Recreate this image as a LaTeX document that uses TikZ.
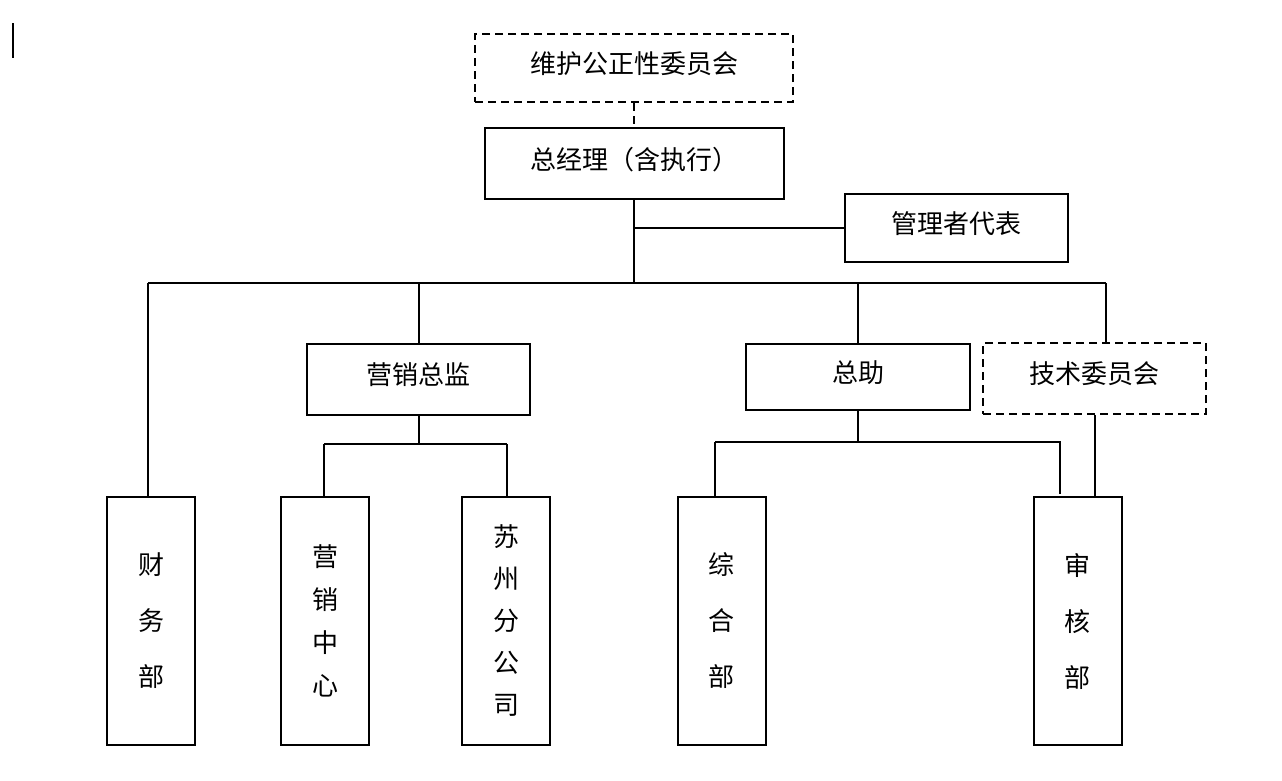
\documentclass[tikz,border=0pt]{standalone}
\usepackage{fontspec}
\setmainfont{Noto Sans CJK SC}
\usepackage{tikz}
\usetikzlibrary{positioning,calc}

\tikzset{
	box/.style={draw,line width=2pt,inner sep=0pt,align=center},
	unit/.style={box,text depth=11pt,font=\fontsize{26}{30}\selectfont},
	dashunit/.style={unit,dash pattern=on 8pt off 5pt},
	colunit/.style={box,minimum width=88pt,minimum height=248pt},
	link/.style={line width=2pt}
}

\begin{document}
\begin{tikzpicture}[x=1pt,y=-1pt]
	\useasboundingbox (0,0) rectangle (1282,780);
	% cursor mark
	\draw[line width=2pt] (13,23) -- (13,58);
	
	% top
	\node[dashunit,minimum width=318pt,minimum height=68pt] (cttee) at (634,68) {维护公正性委员会};
	\node[unit,minimum width=299pt,minimum height=71pt] (gm) at (634,163.5) {总经理（含执行）};
	\node[unit,minimum width=223pt,minimum height=68pt] (rep) at (956.5,228) {管理者代表};
	
	\draw[link,dash pattern=on 8pt off 5pt] (cttee.south) -- (gm.north);
	\draw[link] (gm.south |- rep.west) -- (rep.west);
	
	% main bus
	\coordinate (busL) at (148,283);
	\coordinate (busR) at (1106,283);
	\draw[link] (gm.south) -- (gm.south |- busL);
	\draw[link] (busL) -- (busR);
	
	% second level
	\node[unit,minimum width=223pt,minimum height=71pt] (mkt) at (418.5,379.5) {营销总监};
	\node[unit,minimum width=224pt,minimum height=66pt] (asst) at (858,377) {总助};
	\node[dashunit,minimum width=223pt,minimum height=71pt] (tech) at (1094.5,378.5) {技术委员会};
	
	\draw[link] (mkt.north |- busL) -- (mkt.north);
	\draw[link] (asst.north |- busL) -- (asst.north);
	\draw[link] (busR) -- (busR |- tech.north);
	
	% departments
	\node[colunit,font=\fontsize{26}{56}\selectfont] (fin) at (151,620.5) {财\\务\\部};
	\node[colunit,font=\fontsize{26}{43}\selectfont] (mktc) at (325,621) {营\\销\\中\\心};
	\node[colunit,font=\fontsize{26}{42}\selectfont] (sz) at (506,621) {苏\\州\\分\\公\\司};
	\node[colunit,font=\fontsize{26}{56}\selectfont] (gen) at (721.5,620.5) {综\\合\\部};
	\node[colunit,font=\fontsize{26}{56}\selectfont] (audit) at (1077.5,621) {审\\核\\部};
	
	\draw[link] (busL) -- (busL |- fin.north);
	
	% marketing branch
	\coordinate (mbusL) at (324,444);
	\coordinate (mbusR) at (507,444);
	\draw[link] (mkt.south) -- (mkt.south |- mbusL);
	\draw[link] (mbusL) -- (mbusR);
	\draw[link] (mbusL) -- (mbusL |- mktc.north);
	\draw[link] (mbusR) -- (mbusR |- sz.north);
	
	% assistant branch
	\coordinate (abusL) at (715,442);
	\coordinate (abusR) at (1060,442);
	\coordinate (aend) at (1060,494);
	\draw[link] (asst.south) -- (asst.south |- abusL);
	\draw[link] (abusL) -- (abusR) -- (aend);
	\draw[link] (abusL) -- (abusL |- gen.north);
	
	\draw[link] (tech.south) -- (tech.south |- audit.north);
\end{tikzpicture}
\end{document}
